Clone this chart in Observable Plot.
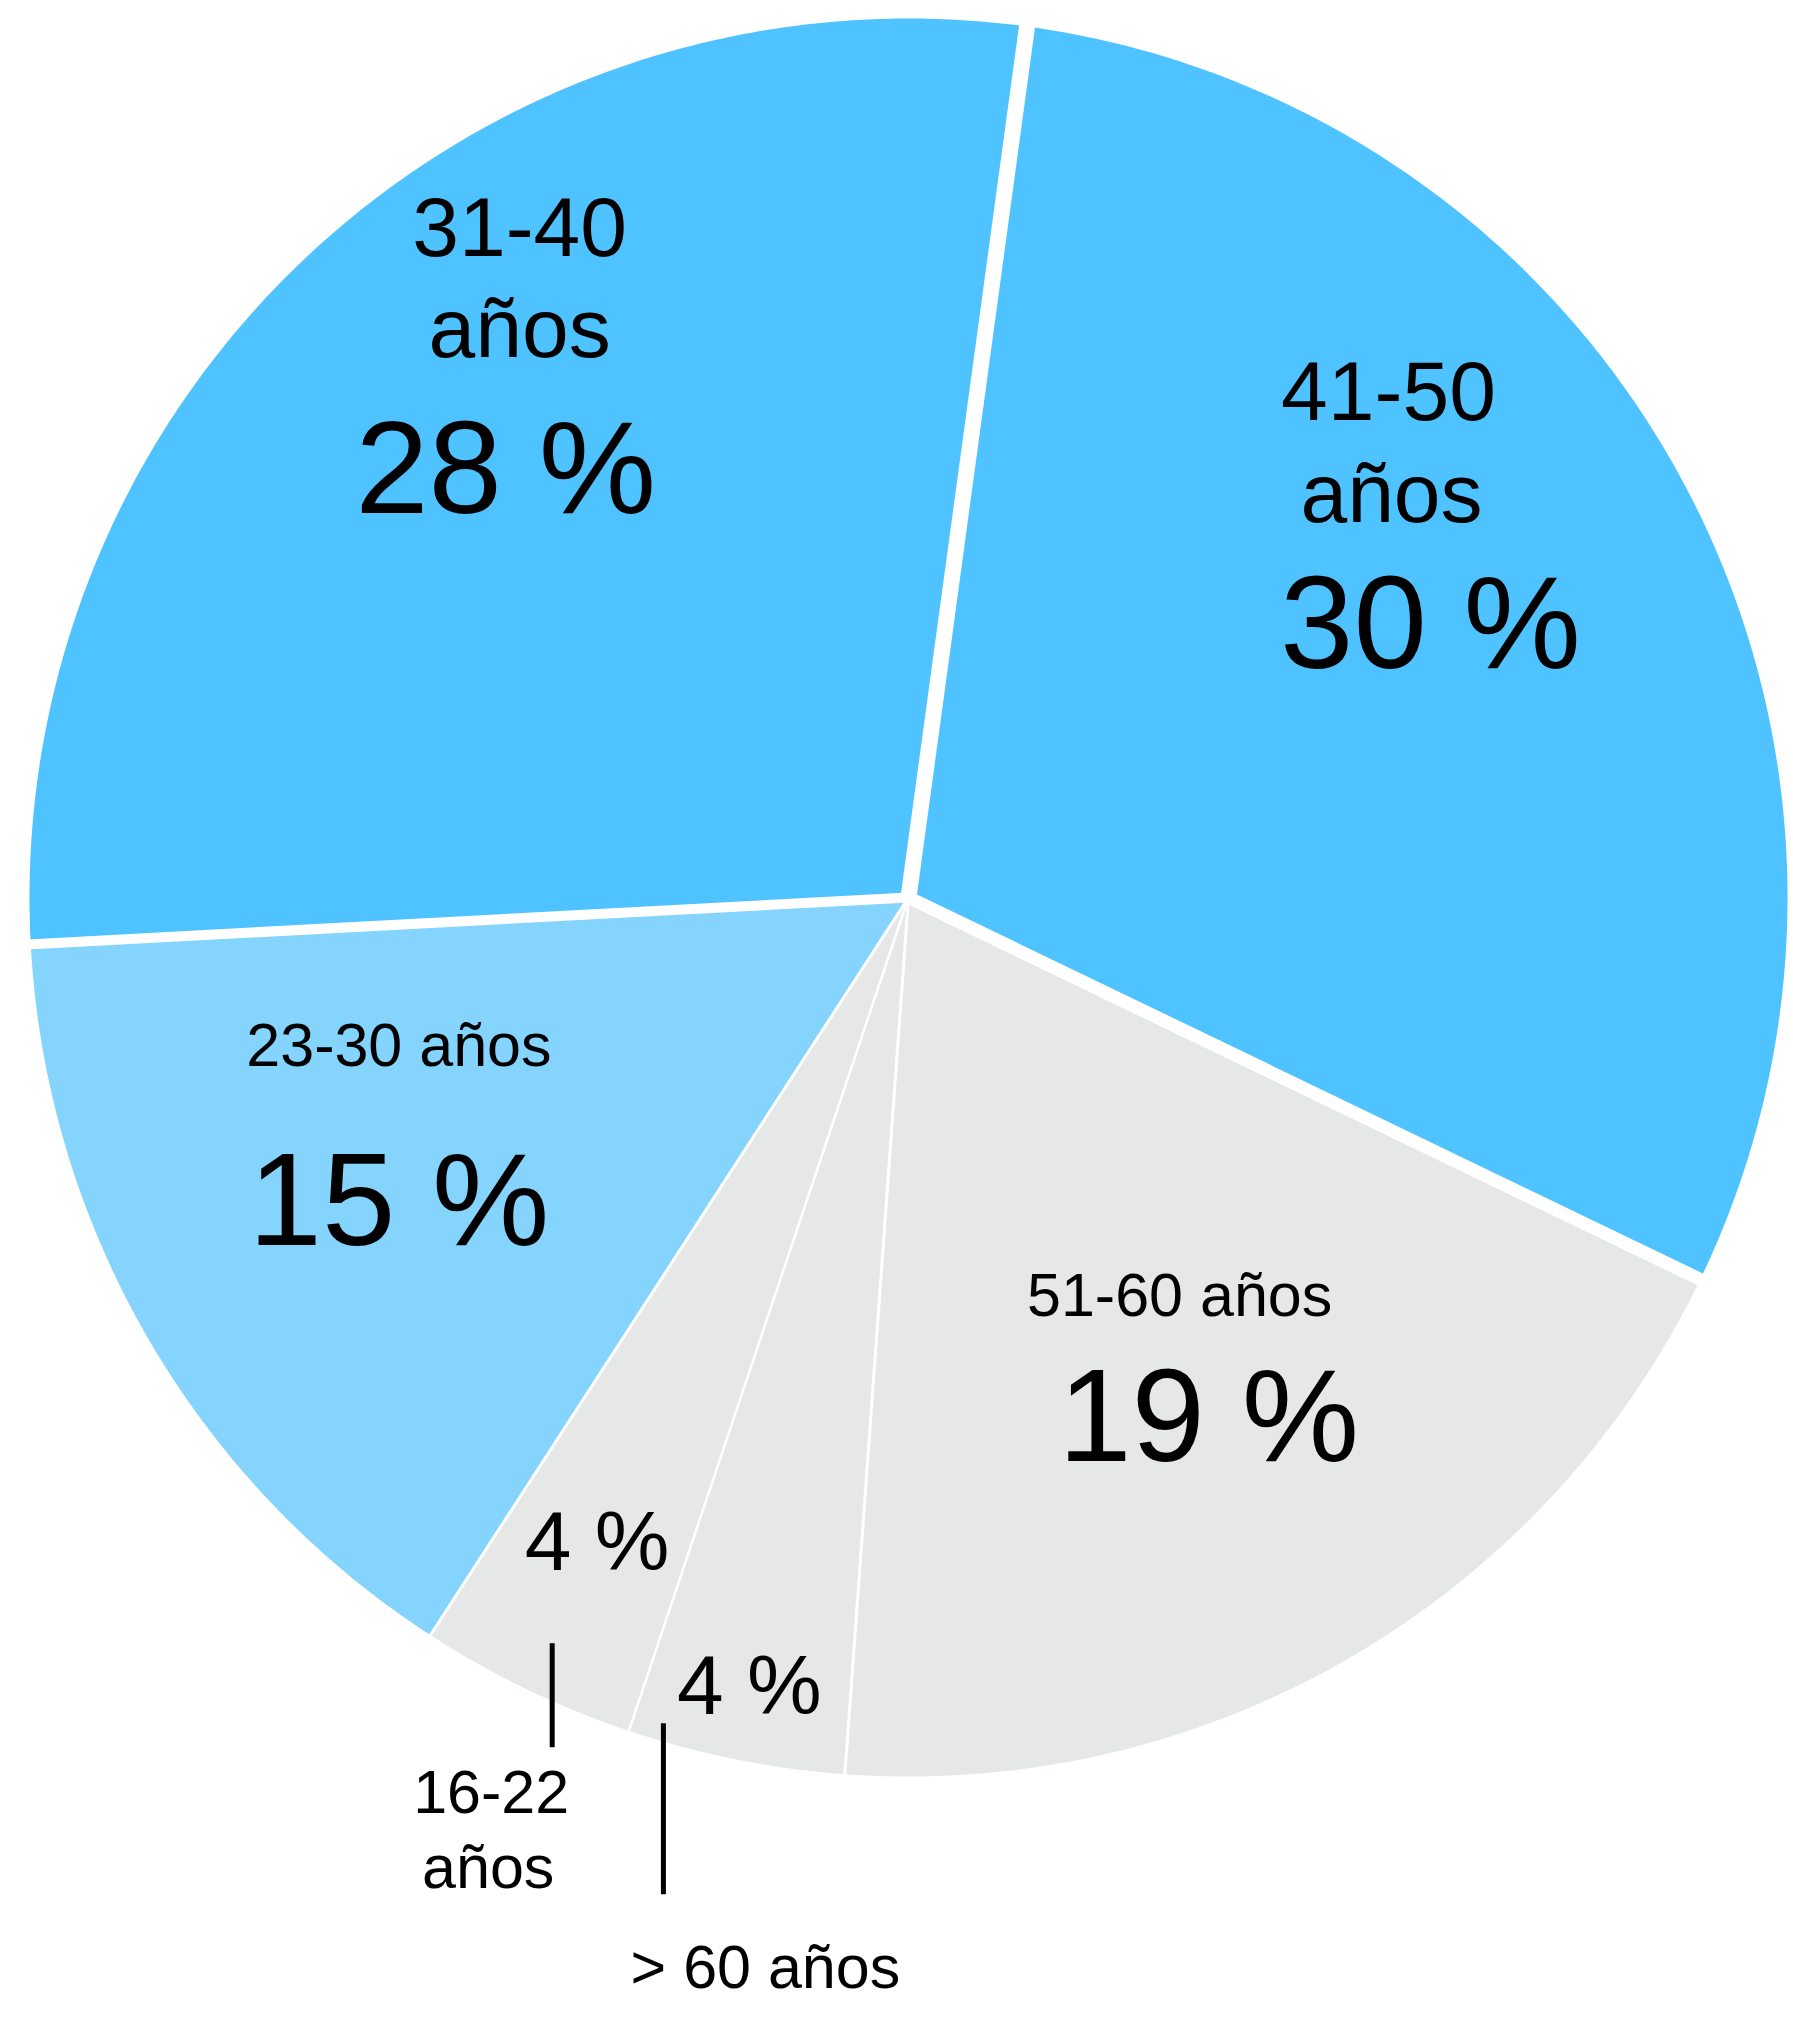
<!DOCTYPE html>
<html>
<head>
<meta charset="utf-8">
<script src="https://cdn.jsdelivr.net/npm/d3@7"></script>
<script src="https://cdn.jsdelivr.net/npm/@observablehq/plot@0.6"></script>
<style>
  html, body { margin: 0; padding: 0; background: #fff; }
  #chart svg { display: block; }
</style>
</head>
<body>
<div id="chart"></div>
<script>
// ---------- DATA ----------
const categories = ["41-50 años", "51-60 años", "> 60 años", "16-22 años", "23-30 años", "31-40 años"];
const values = [30, 19, 4, 4, 15, 28];
const groups = ["dark", "gray", "gray", "gray", "light", "dark"];
const nameLines = [["41-50", "años"], ["51-60 años"], ["> 60 años"], ["16-22", "años"], ["23-30 años"], ["31-40", "años"]];
const pctLabels = values.map(v => `${v} %`);

// ---------- STYLE / LAYOUT ----------
const W = 1793, H = 2017, CX = 908, CY = 897, R = 879;
const startAngle = 7.75;            // degrees clockwise from 12 o'clock
const groupColors = {domain: ["dark", "light", "gray"], range: ["#4fc3ff", "#84d4fd", "#e6e8e7"]};
const borderWidths = [13, 3, 2.5, 3, 10, 16]; // white gap after each slice
const anchorRadius = 0.7;
// text lines: [slice, kind, lineIndex, fontSize, dx(px), dy(px)] relative to slice anchor
const textLayout = [
  [0, "name", 0, 84, -62, -186], [0, "name", 1, 84, -59, -84], [0, "pct", 0, 132, -20, 62],
  [1, "name", 0, 61, -37, -114], [1, "pct", 0, 132, -8, 31],
  [2, "pct", 0, 84, -38, 213], [2, "name", 0, 61, -22, 487],
  [3, "pct", 0, 84, -44, 118], [3, "name", 0, 61, -150, 361], [3, "name", 1, 61, -153, 436],
  [4, "name", 0, 61, 23, -140], [4, "pct", 0, 132, 23, 39],
  [5, "name", 0, 84, 28, -189], [5, "name", 1, 84, 28, -88], [5, "pct", 0, 132, 14, 68]
];
// leader lines: [slice, dx, dy1, dy2] in px relative to slice anchor
const leaderLayout = [[3, -89, 192, 296], [2, -124, 223, 394]];

// ---------- GEOMETRY FROM DATA ----------
const total = d3.sum(values);
const rad = d => d * Math.PI / 180;
const polar = (a, r) => [r * Math.sin(rad(a)), r * Math.cos(rad(a))];
let acc = startAngle;
const slices = values.map((v, i) => {
  const a0 = acc, a1 = acc + v / total * 360;
  acc = a1;
  return {i, key: categories[i], group: groups[i], a0, a1, mid: (a0 + a1) / 2};
});
const polyPts = [];
for (const s of slices) {
  const n = Math.max(2, Math.ceil(s.a1 - s.a0) * 2);
  polyPts.push({key: s.key, group: s.group, x: 0, y: 0});
  for (let k = 0; k <= n; k++) {
    const [x, y] = polar(s.a0 + (s.a1 - s.a0) * k / n, 1);
    polyPts.push({key: s.key, group: s.group, x, y});
  }
}
const borders = slices.map((s, i) => {
  const [x2, y2] = polar(s.a1, 1.05);
  return {x1: 0, y1: 0, x2, y2, w: borderWidths[i]};
});
const anchor = s => polar(s.mid, anchorRadius);
const texts = textLayout.map(([si, kind, li, size, ox, oy]) => {
  const [ax, ay] = anchor(slices[si]);
  const text = kind === "pct" ? pctLabels[si] : nameLines[si][li];
  return {text, size, x: ax + ox / R, y: ay - oy / R};
});
const leaders = leaderLayout.map(([si, ox, oy1, oy2]) => {
  const [ax, ay] = anchor(slices[si]);
  return {x: ax + ox / R, y1: ay - oy1 / R, y2: ay - oy2 / R};
});

// ---------- PLOT ----------
const chart = Plot.plot({
  width: W,
  height: H,
  margin: 0,
  style: {background: "#fff", fontFamily: "'Liberation Sans', Arial, sans-serif"},
  x: {domain: [-CX / R, (W - CX) / R], axis: null},
  y: {domain: [-(H - CY) / R, CY / R], axis: null},
  color: {type: "ordinal", domain: groupColors.domain, range: groupColors.range},
  marks: [
    Plot.line(polyPts, {x: "x", y: "y", z: "key", fill: "group", stroke: "none", curve: "linear-closed"}),
    Plot.link(borders, {x1: "x1", y1: "y1", x2: "x2", y2: "y2", stroke: "#fff", strokeWidth: "w", strokeLinecap: "butt"}),
    Plot.ruleX(leaders, {x: "x", y1: "y1", y2: "y2", stroke: "#000", strokeWidth: 5}),
    Plot.text(texts, {x: "x", y: "y", text: "text", fontSize: d => d.size, fill: "#000",
      textAnchor: "middle", lineAnchor: "bottom", fontFamily: "'Liberation Sans', Arial, sans-serif"})
  ]
});
document.getElementById("chart").appendChild(chart);
</script>
</body>
</html>
